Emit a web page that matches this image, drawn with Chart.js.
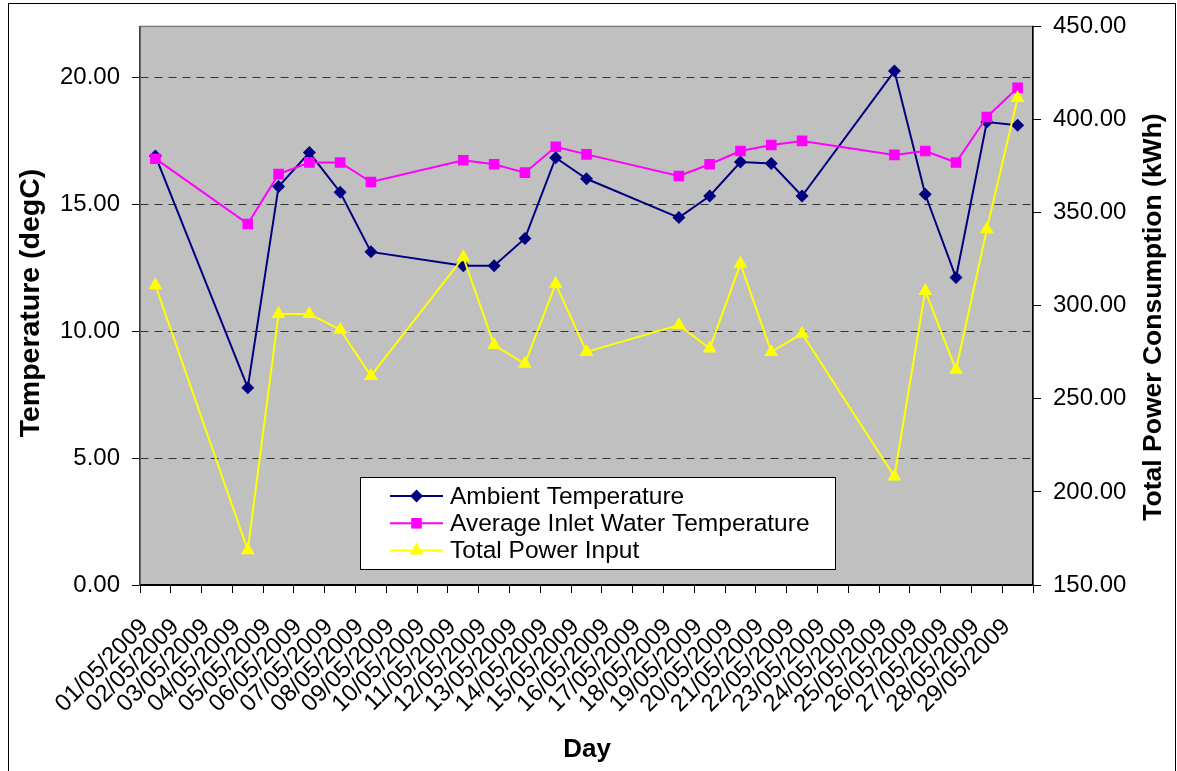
<!DOCTYPE html>
<html>
<head>
<meta charset="utf-8">
<script src="https://cdn.jsdelivr.net/npm/chart.js@4.4.0/dist/chart.umd.min.js"></script>
<style>
  html, body { margin: 0; padding: 0; background: #fff; }
  #wrap { width: 1177px; height: 771px; position: relative; }
</style>
</head>
<body>
<div id="wrap"><canvas id="grafico"></canvas></div>
<script>
// dados (dias sem medição ficam null)
const dias = [
  "01/05/2009", "02/05/2009", "03/05/2009", "04/05/2009", "05/05/2009", "06/05/2009",
  "07/05/2009", "08/05/2009", "09/05/2009", "10/05/2009", "11/05/2009", "12/05/2009",
  "13/05/2009", "14/05/2009", "15/05/2009", "16/05/2009", "17/05/2009", "18/05/2009",
  "19/05/2009", "20/05/2009", "21/05/2009", "22/05/2009", "23/05/2009", "24/05/2009",
  "25/05/2009", "26/05/2009", "27/05/2009", "28/05/2009", "29/05/2009"
];
const tempAmbiente = [16.9, null, null, 7.77, 15.69, 17.03, 15.47, 13.12, null, null,
  12.57, 12.57, 13.65, 16.83, 16.0, null, null, 14.47, 15.32, 16.66,
  16.6, 15.32, null, null, 20.24, 15.39, 12.11, 18.23, 18.11];
const tempEntrada = [16.79, null, null, 14.22, 16.18, 16.64, 16.64, 15.87, null, null,
  16.73, 16.57, 16.24, 17.26, 16.96, null, null, 16.11, 16.57, 17.09,
  17.33, 17.49, null, null, 16.94, 17.09, 16.64, 18.43, 19.58];
const potencia = [311, null, null, 168.7, 295.6, 295.6, 287.1, 262.3, null, null,
  326, 278.9, 268.8, 311.8, 275.2, null, null, 289.6, 277, 322.5,
  275.2, 285, null, null, 208.3, 307.9, 265.6, 341, 411.6];
const ticksTemp = [0, 5, 10, 15, 20];
const ticksPotencia = [150, 200, 250, 300, 350, 400, 450];

const fonte = "'Liberation Sans', Arial, sans-serif";

function marca(ctx, estilo, x, y, r, cor) {
  ctx.fillStyle = cor;
  ctx.beginPath();
  if (estilo === "rectRot") {
    ctx.moveTo(x - r, y); ctx.lineTo(x, y - r); ctx.lineTo(x + r, y); ctx.lineTo(x, y + r);
  } else if (estilo === "rect") {
    const s = r * Math.SQRT1_2;
    ctx.rect(x - s, y - s, 2 * s, 2 * s);
  } else {
    ctx.moveTo(x, y - r);
    ctx.lineTo(x + r * Math.sin(2 * Math.PI / 3), y + r / 2);
    ctx.lineTo(x - r * Math.sin(2 * Math.PI / 3), y + r / 2);
  }
  ctx.closePath();
  ctx.fill();
}

const fundo = {
  id: "fundo",
  beforeDraw(chart) {
    const { ctx, chartArea: a } = chart;
    ctx.save();
    ctx.fillStyle = "#fff";
    ctx.fillRect(0, 0, chart.width, chart.height);
    ctx.strokeStyle = "#000";
    ctx.lineWidth = 1;
    ctx.strokeRect(8.5, 3.5, 1167, 790);
    ctx.fillStyle = "#c0c0c0";
    ctx.fillRect(a.left, a.top, a.right - a.left, a.bottom - a.top);
    ctx.strokeStyle = "#808080";
    ctx.lineWidth = 1.5;
    ctx.strokeRect(a.left, a.top, a.right - a.left, a.bottom - a.top);
    ctx.restore();
  },
  afterDraw(chart) {
    const { ctx } = chart;
    ctx.save();
    ctx.fillStyle = "#000";
    ctx.textAlign = "center";
    ctx.textBaseline = "middle";
    ctx.font = "bold 26px " + fonte;
    ctx.fillText("Day", 587, 750);
    ctx.save();
    ctx.font = "bold 28.5px " + fonte;
    ctx.translate(31, 303);
    ctx.rotate(-Math.PI / 2);
    ctx.fillText("Temperature (degC)", 0, 0);
    ctx.restore();
    ctx.save();
    ctx.font = "bold 26.5px " + fonte;
    ctx.translate(1154, 317);
    ctx.rotate(-Math.PI / 2);
    ctx.fillText("Total Power Consumption (kWh)", 0, 0);
    ctx.restore();

    // legenda
    ctx.fillStyle = "#fff";
    ctx.fillRect(360.5, 477.5, 475, 92);
    ctx.strokeStyle = "#000";
    ctx.lineWidth = 1;
    ctx.strokeRect(360.5, 477.5, 475, 92);
    ctx.font = "24.5px " + fonte;
    ctx.textAlign = "left";
    chart.data.datasets.forEach((ds, i) => {
      const y = 496 + i * 27.3;
      ctx.strokeStyle = ds.borderColor;
      ctx.lineWidth = 2;
      ctx.beginPath();
      ctx.moveTo(390, y);
      ctx.lineTo(443, y);
      ctx.stroke();
      marca(ctx, ds.pointStyle, 416.5, y, ds.pointRadius, ds.backgroundColor);
      ctx.fillStyle = "#000";
      ctx.fillText(ds.label, 450, y + 1);
    });
    ctx.restore();
  }
};

new Chart(document.getElementById("grafico"), {
  type: "line",
  data: {
    labels: dias,
    datasets: [{
      label: "Ambient Temperature",
      data: tempAmbiente,
      yAxisID: "y",
      borderColor: "#000080",
      backgroundColor: "#000080",
      pointStyle: "rectRot",
      pointRadius: 6.5,
      order: 3
    }, {
      label: "Average Inlet Water Temperature",
      data: tempEntrada,
      yAxisID: "y",
      borderColor: "#ff00ff",
      backgroundColor: "#ff00ff",
      pointStyle: "rect",
      pointRadius: 7.5,
      order: 2
    }, {
      label: "Total Power Input",
      data: potencia,
      yAxisID: "y2",
      borderColor: "#ffff00",
      backgroundColor: "#ffff00",
      pointStyle: "triangle",
      pointRadius: 8,
      order: 1
    }]
  },
  options: {
    responsive: true,
    maintainAspectRatio: false,
    animation: false,
    spanGaps: true,
    layout: { padding: { top: 24, left: 0, right: 0, bottom: 0 } },
    elements: {
      line: { borderWidth: 2, tension: 0 },
      point: { borderWidth: 0, hoverRadius: 8 }
    },
    plugins: {
      legend: { display: false },
      tooltip: { enabled: false }
    },
    scales: {
      x: {
        offset: true,
        grid: { display: true, drawOnChartArea: false, offset: true, tickLength: 8, color: "#000" },
        border: { color: "#000", width: 2 },
        ticks: {
          autoSkip: false, minRotation: 45, maxRotation: 45, color: "#000",
          padding: 20, labelOffset: -11,
          font: { family: fonte, size: 24 }
        },
        afterFit: s => { s.height = 186; }
      },
      y: {
        position: "left",
        min: 0,
        max: 22,
        afterBuildTicks: s => { s.ticks = ticksTemp.map(v => ({ value: v })); },
        ticks: {
          color: "#000", padding: 12,
          font: { family: fonte, size: 24 },
          callback: v => v.toFixed(2)
        },
        grid: {
          color: c => (c.tick && c.tick.value === 0 ? "rgba(0,0,0,0)" : "#333"),
          tickColor: "#000",
          tickLength: 8
        },
        border: { color: "#404040", width: 1.5, dash: [8, 6] },
        afterFit: s => { s.width = 140; }
      },
      y2: {
        position: "right",
        min: 150,
        max: 450,
        afterBuildTicks: s => { s.ticks = ticksPotencia.map(v => ({ value: v })); },
        ticks: {
          color: "#000", padding: 12,
          font: { family: fonte, size: 24 },
          callback: v => v.toFixed(2)
        },
        grid: { drawOnChartArea: false, color: "#000", tickLength: 8 },
        border: { color: "#000", width: 1.5 },
        afterFit: s => { s.width = 144; }
      }
    }
  },
  plugins: [fundo]
});
</script>
</body>
</html>
